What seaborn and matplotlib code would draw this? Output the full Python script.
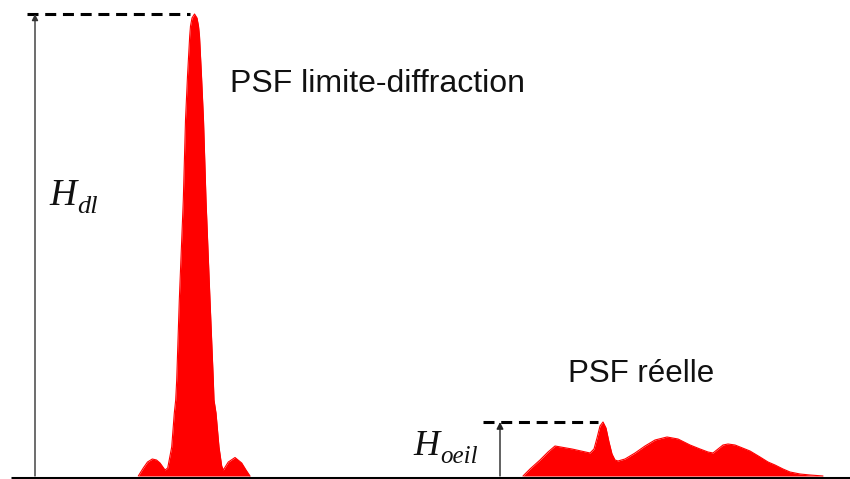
import matplotlib
matplotlib.use("Agg")
import matplotlib.pyplot as plt
import seaborn as sns
import pandas as pd

# Diffraction-limited PSF profile (x position, height above baseline)
x_dl = [138.3, 143.3, 147.5, 152.3, 156.5, 160.0, 165.0, 167.7, 171.7, 174.3, 175.7, 176.7,
        179.3, 183.3, 185.5, 187.5, 189.7, 190.5, 192.0, 194.5, 197.0, 198.5, 199.5, 201.5,
        203.5, 206.0, 210.0, 213.3, 214.0, 216.0, 219.0, 221.7, 223.3, 228.3, 235.0, 241.7,
        246.0, 250.0]
h_dl = [0, 8, 14, 17, 16, 13, 6, 8, 29, 63, 76, 96,
        176, 276, 356, 400, 440, 450, 458, 462, 458, 450, 440, 400,
        356, 276, 176, 96, 76, 63, 29, 10, 6, 14, 18.5, 13,
        6, 0]

# Real eye PSF profile
x_eye = [523, 530, 540, 548, 555, 572, 590, 594, 597, 600, 603, 606, 609, 612, 615, 618,
         625, 635, 645, 655, 667, 678, 690, 700, 708, 713, 718, 723, 728, 735, 740, 750,
         760, 768, 775, 783, 790, 800, 810, 823]
h_eye = [0, 7, 16, 24, 30, 27, 23, 27, 38, 50, 54, 48, 34, 22, 16, 15,
         17, 23, 30, 36, 39, 37, 31, 27, 24, 23, 27, 31, 32, 31, 29, 25,
         19, 14, 11, 7, 4, 2, 1, 0]

H_DL, H_EYE = 462, 54
labels = ["PSF limite-diffraction", "PSF réelle"]

sns.set_theme(style="white")
plt.rcParams['font.family'] = ['Liberation Sans', 'DejaVu Sans']

fig = plt.figure(figsize=(8.5, 4.79), dpi=100)
ax = fig.add_axes([0, 0, 1, 1])
ax.set_xlim(0, 850)
ax.set_ylim(-3, 476)
ax.axis('off')

red = '#ff0000'
df_dl = pd.DataFrame({'x': x_dl, 'h': h_dl})
df_eye = pd.DataFrame({'x': x_eye, 'h': h_eye})
for df in (df_dl, df_eye):
    ax.fill_between(df['x'], 0, df['h'], color=red, lw=0, zorder=2)
    sns.lineplot(data=df, x='x', y='h', ax=ax, color=red, lw=0.8, sort=False,
                 estimator=None, zorder=2)

# baseline
ax.plot([11, 850], [-1.5, -1.5], color='black', lw=2.2, solid_capstyle='butt', zorder=3)

# dashed reference lines
ax.plot([27, 190], [H_DL, H_DL], color='black', lw=2.2, linestyle=(0, (3.6, 2.2)), zorder=3)
ax.plot([483, 598], [H_EYE, H_EYE], color='black', lw=2.2, linestyle=(0, (3.6, 2.2)), zorder=3)

# height arrows
ax.annotate('', xy=(35, H_DL), xytext=(35, 0),
            arrowprops=dict(arrowstyle='-|>', color='#333333', lw=1.0,
                            mutation_scale=9, shrinkA=0, shrinkB=0), zorder=4)
ax.annotate('', xy=(500, H_EYE), xytext=(500, 0),
            arrowprops=dict(arrowstyle='-|>', color='#222222', lw=1.0,
                            mutation_scale=10, shrinkA=0, shrinkB=0), zorder=4)

# labels
ax.text(230, 384, labels[0], fontsize=23, color='#111111', va='baseline', ha='left')
ax.text(568, 94, labels[1], fontsize=22.5, color='#111111', va='baseline', ha='left')

serif = ['Liberation Serif', 'DejaVu Serif']
ax.text(49, 271, 'H', fontsize=27, family=serif, style='italic', va='baseline', color='#111111')
ax.text(77, 263, 'dl', fontsize=19, family=serif, style='italic', va='baseline', color='#111111')
ax.text(413, 21, 'H', fontsize=26, family=serif, style='italic', va='baseline', color='#111111')
ax.text(440, 13, 'oeil', fontsize=18, family=serif, style='italic', va='baseline', color='#111111')

fig.savefig('out.png', dpi=100)
